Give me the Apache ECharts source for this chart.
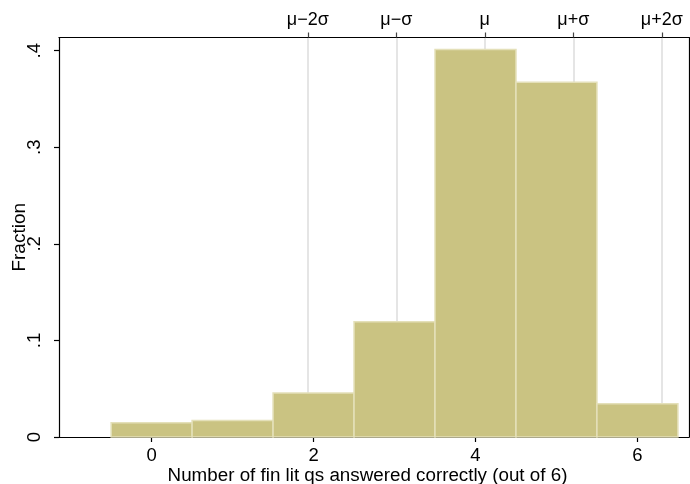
<!DOCTYPE html>
<html>
<head>
<meta charset="utf-8">
<script src="https://cdn.jsdelivr.net/npm/echarts@6/dist/echarts.min.js"></script>
<style>
  html, body { margin: 0; padding: 0; background: #fff; }
  #chart { width: 690px; height: 484px; }
</style>
</head>
<body>
<div id="chart"></div>
<script>
// Histogram of correct answers to the six financial literacy questions
const scores = [0, 1, 2, 3, 4, 5, 6];
const fractions = [0.0148, 0.0172, 0.0455, 0.1193, 0.4014, 0.3673, 0.0345];

// Reference marks on the top axis: mean and +/- 1, 2 standard deviations
const scoreMean = 4.115;
const scoreSd = 1.093;
const refOffsets = [-2, -1, 0, 1, 2];
const refLabels = ['μ−2σ', 'μ−σ', 'μ', 'μ+σ', 'μ+2σ'];
const refValues = refOffsets.map(k => scoreMean + k * scoreSd);

const xTicks = [0, 2, 4, 6];
const yTicks = [0, 0.1, 0.2, 0.3, 0.4];

const X_MIN = -1.144, X_MAX = 6.637;
const Y_MAX = 0.4137;
const FONT = "'Liberation Sans', Arial, sans-serif";
const BAR_FILL = '#cac382';
const BAR_EDGE = '#e4e0b9';

const chart = echarts.init(document.getElementById('chart'), null, { renderer: 'canvas' });

chart.setOption({
  backgroundColor: '#ffffff',
  animation: false,
  grid: { left: 59, right: 1, top: 37.5, bottom: 47, containLabel: false, outerBoundsMode: 'none' },
  xAxis: [
    {
      type: 'value',
      position: 'bottom',
      min: X_MIN,
      max: X_MAX,
      name: 'Number of fin lit qs answered correctly (out of 6)',
      nameLocation: 'middle',
      nameGap: 29,
      nameMoveOverlap: false,
      nameTextStyle: { fontFamily: FONT, fontSize: 18.8, color: '#000', padding: [0, 13, 0, 0] },
      axisLine: { show: true, onZero: false, lineStyle: { color: '#000', width: 1.2 } },
      axisTick: { show: true, customValues: xTicks, length: 5, lineStyle: { color: '#000', width: 1.2 } },
      axisLabel: {
        customValues: xTicks,
        margin: 9,
        fontFamily: FONT, fontSize: 18.5, color: '#000',
        formatter: v => String(v)
      },
      splitLine: { show: false }
    },
    {
      type: 'value',
      position: 'top',
      min: X_MIN,
      max: X_MAX,
      axisLine: { show: true, onZero: false, lineStyle: { color: '#000', width: 1.2 } },
      axisTick: { show: true, customValues: refValues, length: 5, lineStyle: { color: '#444', width: 1.2 } },
      axisLabel: {
        customValues: refValues,
        margin: 8,
        fontFamily: FONT, fontSize: 18, color: '#000',
        formatter: v => {
          const i = refValues.findIndex(r => Math.abs(r - v) < 1e-6);
          return i >= 0 ? refLabels[i] : '';
        }
      },
      splitLine: { show: true, customValues: refValues, lineStyle: { color: '#dcdcdc', width: 1.5 } }
    }
  ],
  yAxis: [
    {
      type: 'value',
      position: 'left',
      min: 0,
      max: Y_MAX,
      name: 'Fraction',
      nameLocation: 'middle',
      nameRotate: 90,
      nameGap: 30,
      nameMoveOverlap: false,
      nameTextStyle: { fontFamily: FONT, fontSize: 19, color: '#000' },
      axisLine: { show: true, onZero: false, lineStyle: { color: '#000', width: 1.2 } },
      axisTick: { show: true, customValues: yTicks, length: 5, lineStyle: { color: '#000', width: 1.2 } },
      axisLabel: {
        customValues: yTicks,
        rotate: 90,
        margin: 15,
        fontFamily: FONT, fontSize: 18.5, color: '#000',
        formatter: v => (Math.abs(v) < 1e-9 ? '0' : String(+v.toFixed(1)).replace(/^0/, ''))
      },
      splitLine: { show: false }
    },
    {
      type: 'value',
      position: 'right',
      min: 0,
      max: Y_MAX,
      axisLine: { show: true, onZero: false, lineStyle: { color: '#000', width: 1.2 } },
      axisTick: { show: false },
      axisLabel: { show: false },
      splitLine: { show: false }
    }
  ],
  series: [
    {
      type: 'custom',
      xAxisIndex: 0,
      yAxisIndex: 0,
      data: scores.map((s, i) => [s, fractions[i]]),
      encode: { x: 0, y: 1 },
      renderItem: (params, api) => {
        const x = api.value(0);
        const y = api.value(1);
        const topLeft = api.coord([x - 0.5, y]);
        const bottomRight = api.coord([x + 0.5, 0]);
        return {
          type: 'rect',
          shape: {
            x: topLeft[0],
            y: topLeft[1],
            width: bottomRight[0] - topLeft[0],
            height: bottomRight[1] - topLeft[1]
          },
          style: { fill: BAR_FILL, stroke: BAR_EDGE, lineWidth: 1.5 }
        };
      }
    }
  ]
});
</script>
</body>
</html>
